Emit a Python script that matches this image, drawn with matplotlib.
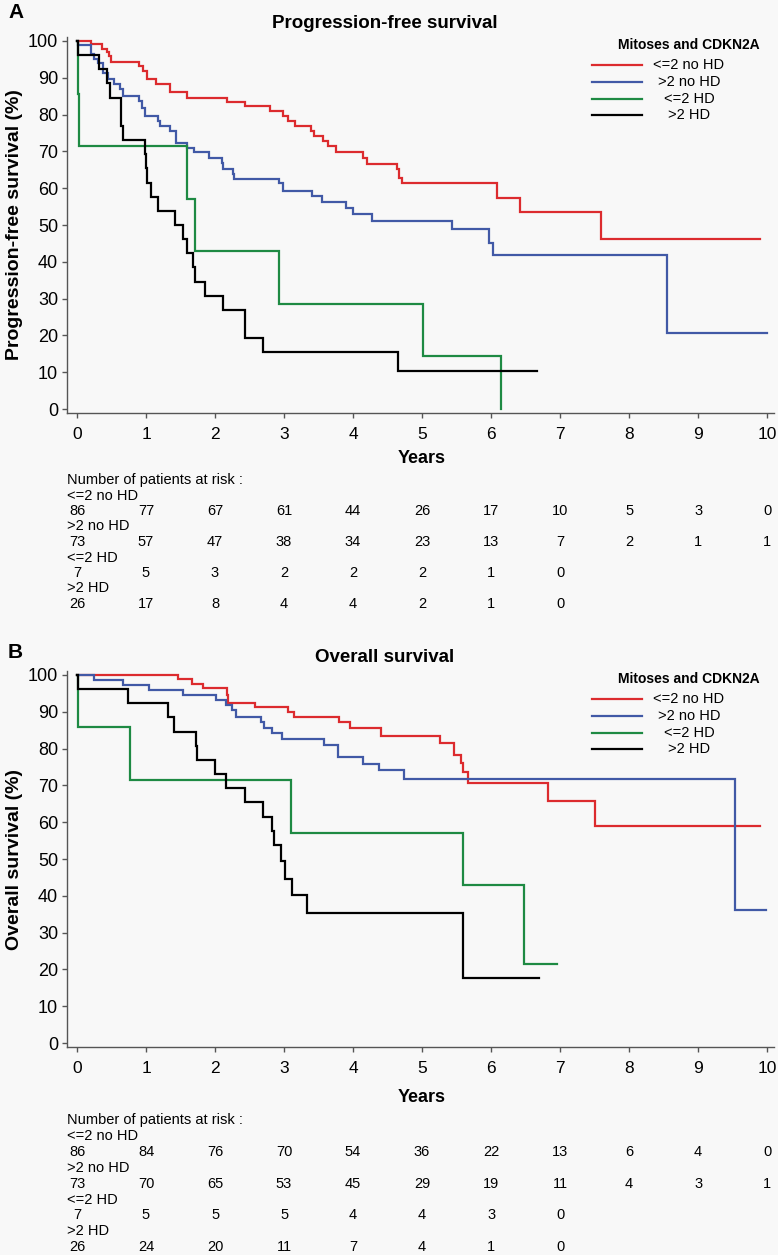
import numpy as np
import matplotlib
matplotlib.use("Agg")
import matplotlib.pyplot as plt
from matplotlib import font_manager
from matplotlib.lines import Line2D
from matplotlib.transforms import blended_transform_factory

# fonts: Arial-like for most text, a narrow face for x ticks and risk table
names = {f.name for f in font_manager.fontManager.ttflist}
SANS = "Liberation Sans" if "Liberation Sans" in names else "DejaVu Sans"
NARROW = "Liberation Sans Narrow" if "Liberation Sans Narrow" in names else SANS
print("narrow font:", NARROW)
plt.rcParams["font.family"] = [SANS, "DejaVu Sans"]

groups = ["<=2 no HD", ">2 no HD", "<=2 HD", ">2 HD"]
colors = ["#dc2b2e", "#4159a6", "#1e8a43", "#000000"]

# Progression-free survival (years, %)
pfs_red_t = [0, 0.21, 0.36, 0.43, 0.47, 0.49, 0.90, 0.96, 1.01, 1.14, 1.35, 1.59, 2.17, 2.44, 2.80, 2.98,
             3.06, 3.16, 3.39, 3.43, 3.57, 3.64, 3.76, 4.15, 4.20, 4.63, 4.66, 4.71, 6.09, 6.42, 7.59, 9.90]
pfs_red_s = [100, 99.1, 97.9, 97.0, 95.9, 94.4, 93.2, 91.8, 89.6, 88.2, 86.1, 84.6, 83.4, 82.2, 81.0, 79.6,
             78.3, 76.9, 75.5, 74.2, 72.8, 71.5, 69.8, 68.3, 66.5, 65.1, 62.9, 61.3, 57.4, 53.6, 46.1, 46.1]
pfs_blue_t = [0, 0.02, 0.21, 0.24, 0.31, 0.38, 0.45, 0.53, 0.62, 0.67, 0.90, 0.94, 0.99, 1.18, 1.20, 1.35,
              1.43, 1.59, 1.69, 1.91, 2.10, 2.12, 2.26, 2.27, 2.92, 2.98, 3.40, 3.55, 3.90, 4.00, 4.27,
              5.43, 5.97, 6.03, 8.55, 10.0]
pfs_blue_s = [100, 98.8, 96.4, 95.0, 94.1, 91.4, 89.6, 88.2, 86.9, 85.1, 83.7, 81.9, 79.6, 78.3, 76.9, 75.5,
              72.4, 71.0, 69.7, 68.3, 66.9, 65.3, 63.8, 62.4, 61.3, 59.2, 57.9, 56.3, 54.7, 52.9, 51.1,
              48.8, 45.2, 41.8, 20.7, 20.7]
pfs_green_t = [0, 0.01, 0.03, 1.60, 1.71, 2.92, 5.02, 6.15]
pfs_green_s = [100, 85.7, 71.4, 57.1, 42.9, 28.6, 14.3, 0]
pfs_black_t = [0, 0.01, 0.32, 0.43, 0.48, 0.64, 0.66, 0.98, 1.00, 1.02, 1.07, 1.18, 1.42, 1.54, 1.59, 1.68,
               1.71, 1.86, 2.11, 2.43, 2.69, 4.65, 6.67]
pfs_black_s = [100, 96.2, 92.3, 88.5, 84.6, 76.9, 73.1, 69.2, 65.4, 61.5, 57.7, 53.8, 50.0, 46.2, 42.3, 38.5,
               34.6, 30.8, 26.9, 19.2, 15.4, 10.3, 10.3]

# Overall survival
os_red_t = [0, 1.47, 1.66, 1.83, 2.17, 2.19, 2.58, 3.06, 3.15, 3.80, 3.95, 4.41, 5.26, 5.46, 5.56, 5.60,
            5.67, 6.83, 7.51, 9.90]
os_red_s = [100, 98.9, 97.6, 96.4, 94.6, 92.5, 91.4, 90.0, 88.5, 87.1, 85.5, 83.4, 81.4, 78.2, 76.0, 73.7,
            70.7, 65.7, 59.0, 59.0]
os_blue_t = [0, 0.24, 0.67, 1.05, 1.54, 2.02, 2.16, 2.25, 2.31, 2.67, 2.71, 2.83, 2.97, 3.58, 3.78, 4.14,
             4.38, 4.74, 9.53, 9.99]
os_blue_s = [100, 98.6, 97.3, 95.9, 94.6, 93.2, 91.8, 90.5, 88.7, 87.3, 85.5, 84.3, 82.5, 81.0, 77.8, 75.7,
             74.2, 71.7, 36.1, 36.1]
os_green_t = [0, 0.01, 0.77, 3.10, 5.59, 6.48, 6.96]
os_green_s = [100, 85.9, 71.4, 57.1, 42.9, 21.4, 21.4]
os_black_t = [0, 0.01, 0.74, 1.32, 1.41, 1.72, 1.74, 2.00, 2.16, 2.44, 2.69, 2.83, 2.85, 2.95, 3.02, 3.12,
              3.33, 5.60, 6.70]
os_black_s = [100, 96.2, 92.3, 88.5, 84.6, 80.8, 76.9, 73.1, 69.2, 65.4, 61.5, 57.7, 53.8, 49.5, 44.7, 40.2,
              35.4, 17.7, 17.7]

# numbers at risk at years 0..10
pfs_risk_red = [86, 77, 67, 61, 44, 26, 17, 10, 5, 3, 0]
pfs_risk_blue = [73, 57, 47, 38, 34, 23, 13, 7, 2, 1, 1]
pfs_risk_green = [7, 5, 3, 2, 2, 2, 1, 0]
pfs_risk_black = [26, 17, 8, 4, 4, 2, 1, 0]
os_risk_red = [86, 84, 76, 70, 54, 36, 22, 13, 6, 4, 0]
os_risk_blue = [73, 70, 65, 53, 45, 29, 19, 11, 4, 3, 1]
os_risk_green = [7, 5, 5, 5, 4, 4, 3, 0]
os_risk_black = [26, 24, 20, 11, 7, 4, 1, 0]

years = list(range(11))
yticks = list(range(0, 101, 10))

W, H = 778, 1255
fig = plt.figure(figsize=(W / 100, H / 100), dpi=100, facecolor="#f8f8f8")


def fx(x):
    return x / W


def fy(y):
    return 1 - y / H


panels = [
    dict(letter="A", title="Progression-free survival", ylabel="Progression-free survival (%)",
         top=37.3, bottom=412.7, title_y=24, letter_y=13, leg_y=45,
         curves=[(pfs_red_t, pfs_red_s), (pfs_blue_t, pfs_blue_s),
                 (pfs_green_t, pfs_green_s), (pfs_black_t, pfs_black_s)],
         risk=[pfs_risk_red, pfs_risk_blue, pfs_risk_green, pfs_risk_black],
         years_y=458, risk_y0=480, risk_dy=15.5),
    dict(letter="B", title="Overall survival", ylabel="Overall survival (%)",
         top=671.3, bottom=1046.7, title_y=657, letter_y=652, leg_y=679,
         curves=[(os_red_t, os_red_s), (os_blue_t, os_blue_s),
                 (os_green_t, os_green_s), (os_black_t, os_black_s)],
         risk=[os_risk_red, os_risk_blue, os_risk_green, os_risk_black],
         years_y=1098, risk_y0=1120, risk_dy=15.9),
]

left_px, right_px = 67, 774

for p in panels:
    ax = fig.add_axes([fx(left_px), fy(p["bottom"]), fx(right_px - left_px),
                       (p["bottom"] - p["top"]) / H])
    ax.set_facecolor("#f8f8f8")
    for (t, s), c in zip(p["curves"], colors):
        ax.step(t, s, where="post", color=c, lw=1.6, solid_joinstyle="miter")
    ax.set_xlim(-0.145, 10.1)
    ax.set_ylim(-1, 101)
    ax.set_xticks(years)
    ax.set_yticks(yticks)
    for sp in ["top", "right"]:
        ax.spines[sp].set_visible(False)
    for sp in ["left", "bottom"]:
        ax.spines[sp].set_color("#555555")
        ax.spines[sp].set_linewidth(1.0)
    ax.tick_params(axis="y", direction="out", length=3.5, width=1, color="#555555",
                   labelsize=13, pad=3)
    ax.tick_params(axis="x", direction="out", length=3.5, width=1, color="#555555",
                   labelsize=12.5, pad=6.5)
    for lab in ax.get_xticklabels():
        lab.set_family(NARROW)

    # panel letter, title, y label
    fig.text(fx(8), fy(p["letter_y"]), p["letter"], fontsize=15, fontweight="bold",
             ha="left", va="center")
    fig.text(fx(385), fy(p["title_y"]), p["title"], fontsize=13.5, fontweight="bold",
             ha="center", va="center")
    fig.text(fx(15), (fy(p["top"]) + fy(p["bottom"])) / 2, p["ylabel"], fontsize=14,
             fontweight="bold", rotation=90, ha="center", va="center")
    fig.text(ax.transData.transform((5, 0))[0] / W, fy(p["years_y"]), "Years",
             family=NARROW, fontsize=13, fontweight="bold", ha="center", va="center")

    # legend drawn by hand so labels can be centred like the original
    fig.text(fx(689), fy(p["leg_y"]), "Mitoses and CDKN2A", fontsize=10, fontweight="bold",
             ha="center", va="center")
    for i, (g, c) in enumerate(zip(groups, colors)):
        yy = fy(p["leg_y"] + 20 + i * 16.8)
        fig.add_artist(Line2D([fx(592), fx(642)], [yy, yy], color=c, lw=1.6,
                              transform=fig.transFigure))
        fig.text(fx(689), yy, g, fontsize=10.5, ha="center", va="center")

    # numbers at risk table
    tr = blended_transform_factory(ax.transData, fig.transFigure)
    fig.text(fx(left_px), fy(p["risk_y0"]), "Number of patients at risk :", family=NARROW,
             fontsize=10.5, ha="left", va="center")
    for i, (g, counts) in enumerate(zip(groups, p["risk"])):
        ylab = fy(p["risk_y0"] + p["risk_dy"] * (1 + 2 * i))
        yval = fy(p["risk_y0"] + p["risk_dy"] * (2 + 2 * i))
        fig.text(fx(left_px), ylab, g, family=NARROW, fontsize=10.5, ha="left", va="center")
        for yr, n in zip(years, counts):
            ax.text(yr, yval, str(n), transform=tr, family=NARROW, fontsize=10.5,
                    ha="center", va="center")

fig.savefig("out.png", dpi=100, facecolor=fig.get_facecolor())
